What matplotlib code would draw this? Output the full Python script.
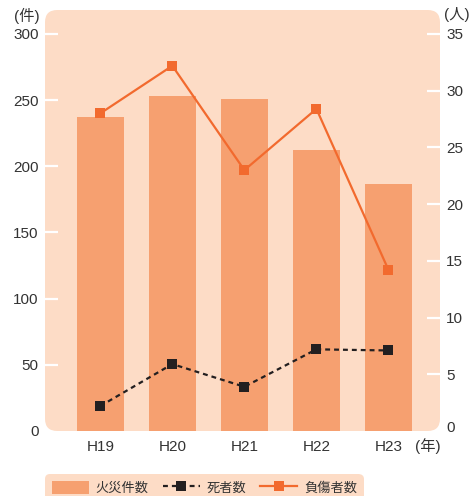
import matplotlib
matplotlib.use("Agg")
import matplotlib.pyplot as plt
import matplotlib.transforms as mtransforms
from matplotlib.patches import FancyBboxPatch

plt.rcParams['font.family'] = ['Liberation Sans', 'Noto Sans CJK JP']

# 年度ごとの火災件数・死者数・負傷者数
years = ['H19', 'H20', 'H21', 'H22', 'H23']
fires = [237, 253, 251, 212, 187]
deaths = [2.2, 5.9, 3.9, 7.2, 7.1]
injured = [28.0, 32.2, 23.0, 28.4, 14.2]

fire_ticks = [0, 50, 100, 150, 200, 250, 300]
person_ticks = [0, 5, 10, 15, 20, 25, 30, 35]

panel_color = '#fddcc6'
bar_color = '#f6a070'
injured_color = '#f26a2e'
death_color = '#231f20'
text_color = '#333333'

W, H = 471, 496
fig = plt.figure(figsize=(W / 100, H / 100), dpi=100)

# パネル位置（ピクセル）
left, right, top, bottom = 45, 440, 10, 431
ax = fig.add_axes([left / W, 1 - bottom / H, (right - left) / W, (bottom - top) / H])
ax.patch.set_visible(False)
ax.set_zorder(2)

panel = FancyBboxPatch((left / W, 1 - bottom / H), (right - left) / W, (bottom - top) / H,
                       boxstyle='round,pad=0,rounding_size=0.026', mutation_aspect=W / H,
                       transform=fig.transFigure, facecolor=panel_color, edgecolor='none', zorder=0)
fig.patches.append(panel)

x = list(range(len(years)))
bars = ax.bar(x, fires, width=0.65, color=bar_color, zorder=2, label='火災件数')

# 軸の範囲: 0 が下端、300 / 35 がパネル上端から少し下
scale = (bottom - top) / (bottom - 34)
ax.set_ylim(0, 300 * scale)
ax.set_xlim(-0.767, 4.715)

ax2 = ax.twinx()
ax2.set_ylim(0, 35 * scale)
ax2.patch.set_visible(False)
ax2.set_zorder(3)

l_death, = ax2.plot(x, deaths, color=death_color, lw=1.6, dashes=(2.2, 1.8),
                    marker='s', markersize=7, markeredgewidth=0, label='死者数', zorder=3)
l_inj, = ax2.plot(x, injured, color=injured_color, lw=1.6,
                  marker='s', markersize=7, markeredgewidth=0, label='負傷者数', zorder=3)

for a in (ax, ax2):
    for s in a.spines.values():
        s.set_visible(False)

ax.set_yticks(fire_ticks)
ax.tick_params(axis='y', direction='in', length=9.5, width=1.6, color='white',
               pad=4.5, labelsize=11, labelcolor=text_color)
ax2.set_yticks(person_ticks)
ax2.tick_params(axis='y', direction='in', length=9.5, width=1.6, color='white',
                pad=4.5, labelsize=11, labelcolor=text_color)
ax.get_yticklines()[0].set_visible(False)
ax2.get_yticklines()[1].set_visible(False)
# 右軸の 0 はやや上に
zero_lbl = ax2.yaxis.get_major_ticks()[0].label2
zero_lbl.set_transform(zero_lbl.get_transform()
                       + mtransforms.ScaledTranslation(0, 5 / 100, fig.dpi_scale_trans))

ax.set_xticks(x)
ax.set_xticklabels(years)
ax.tick_params(axis='x', length=0, pad=6.5, labelsize=11, labelcolor=text_color)

# 単位
fig.text(27 / W, 1 - 16 / H, '(件)', ha='center', va='center', fontsize=11, color=text_color)
fig.text(457 / W, 1 - 15 / H, '(人)', ha='center', va='center', fontsize=11, color=text_color)
fig.text(428 / W, 1 - 446 / H, '(年)', ha='center', va='center', fontsize=11, color=text_color)

leg = fig.legend(handles=[bars, l_death, l_inj], loc='upper left',
                 bbox_to_anchor=(45 / W, 1 - 474 / H), borderaxespad=0, ncol=3, fontsize=9.5,
                 frameon=True, fancybox=True, facecolor=panel_color, edgecolor='none',
                 framealpha=1, handlelength=2.8, handleheight=1.2, columnspacing=1.1,
                 handletextpad=0.5, borderpad=0.5, labelcolor=text_color)
leg.get_frame().set_boxstyle('round,pad=0,rounding_size=0.4')

fig.savefig('out.png', dpi=100)
